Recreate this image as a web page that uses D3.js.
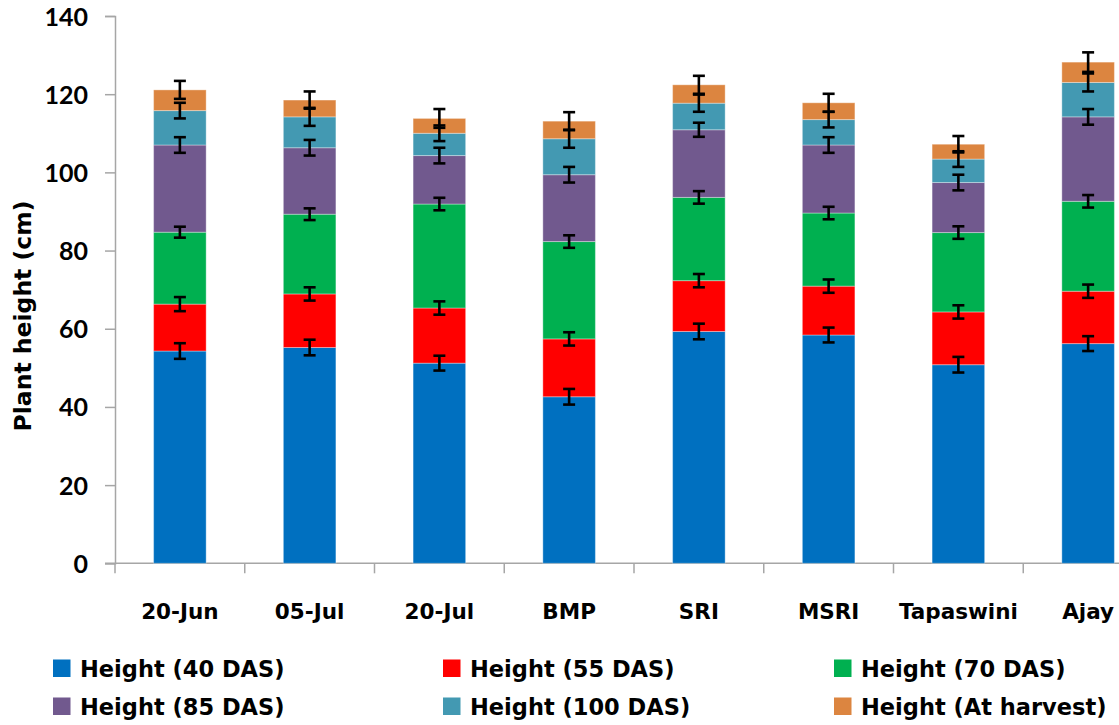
<!DOCTYPE html>
<html>
<head>
<meta charset="utf-8">
<script src="https://cdn.jsdelivr.net/npm/d3@7/dist/d3.min.js"></script>
<style>
  html, body { margin: 0; padding: 0; background: #fff; }
  svg { display: block; }
  text { font-family: "DejaVu Sans", "Liberation Sans", sans-serif; font-weight: bold; fill: #000; }
  .ytick text { font-family: Lato, "DejaVu Sans", sans-serif; }
</style>
</head>
<body>
<svg id="chart" width="1119" height="725"></svg>
<script>
// ---- Data (segment increments, cm) ----
const categories = ["20-Jun", "05-Jul", "20-Jul", "BMP", "SRI", "MSRI", "Tapaswini", "Ajay"];
const seriesNames = ["Height (40 DAS)", "Height (55 DAS)", "Height (70 DAS)", "Height (85 DAS)", "Height (100 DAS)", "Height (At harvest)"];
const h40  = [54.3, 55.2, 51.2, 42.6, 59.3, 58.4, 50.8, 56.2];
const h55  = [12.0, 13.7, 14.1, 14.8, 13.0, 12.5, 13.5, 13.4];
const h70  = [18.4, 20.4, 26.6, 24.9, 21.3, 18.7, 20.3, 23.0];
const h85  = [22.3, 17.0, 12.4, 17.1, 17.3, 17.4, 12.8, 21.6];
const h100 = [ 8.8,  7.9,  5.7,  9.2,  6.8,  6.5,  6.0,  8.8];
const hHarvest = [5.3, 4.3, 3.8, 4.5, 4.7, 4.3, 3.8, 5.2];
// error bar half-lengths (cm)
const e40  = [2.0, 2.0, 1.9, 2.0, 2.0, 1.9, 2.0, 1.9];
const e55  = [1.8, 1.7, 1.7, 1.7, 1.7, 1.7, 1.7, 1.7];
const e70  = [1.4, 1.5, 1.6, 1.6, 1.6, 1.6, 1.6, 1.6];
const e85  = [2.0, 2.0, 2.0, 2.0, 1.8, 2.0, 2.0, 2.0];
const e100 = [2.0, 2.3, 2.0, 2.3, 2.2, 2.0, 2.0, 2.3];
const eHarvest = [2.3, 2.2, 2.4, 2.3, 2.3, 2.3, 2.1, 2.5];
const yTicks = [0, 20, 40, 60, 80, 100, 120, 140];
const colors = ["#0070C0", "#FF0000", "#00B050", "#71598E", "#4399B2", "#DC8540"];

const seriesVals = [h40, h55, h70, h85, h100, hHarvest];
const seriesErr = [e40, e55, e70, e85, e100, eHarvest];
const keys = seriesNames;
const table = categories.map((c, i) => {
  const row = { cat: c };
  keys.forEach((k, j) => row[k] = seriesVals[j][i]);
  return row;
});
const stacked = d3.stack().keys(keys)(table);

const svg = d3.select("#chart");
const W = 1119, H = 725;
const x0 = 115, step = 129.75;
const x = d3.scaleBand().domain(categories).range([x0, x0 + step * categories.length])
  .paddingInner(0.595).paddingOuter(0.2975);
const y = d3.scaleLinear().domain([0, 140]).range([563.3, 16]);

const axisColor = "#A6A6A6";

// Y axis
const yAxis = svg.append("g").attr("class", "ytick").attr("transform", `translate(${x0},0)`)
  .call(d3.axisLeft(y).tickValues(yTicks).tickSize(10).tickPadding(17).tickFormat(d3.format("d")));
yAxis.select(".domain").attr("stroke", axisColor).attr("stroke-width", 1.5);
yAxis.selectAll(".tick line").attr("stroke", axisColor).attr("stroke-width", 1.5);
yAxis.selectAll(".tick text").style("font-size", "25px").attr("dy", "0.36em");

// X axis line and boundary ticks
svg.append("line").attr("x1", 105).attr("x2", W).attr("y1", y(0)).attr("y2", y(0))
  .attr("stroke", axisColor).attr("stroke-width", 1.5);
const bounds = d3.range(categories.length + 1).map(i => x0 + i * step);
svg.append("g").selectAll("line").data(bounds).join("line")
  .attr("x1", d => d).attr("x2", d => d)
  .attr("y1", y(0)).attr("y2", y(0) + 10)
  .attr("stroke", axisColor).attr("stroke-width", 1.5);

// X labels
const xAxis = svg.append("g").attr("transform", `translate(0,${y(0)})`)
  .call(d3.axisBottom(x).tickSize(0).tickPadding(40));
xAxis.select(".domain").remove();
xAxis.selectAll(".tick text").style("font-size", "21.5px");

// Bars
const layers = svg.append("g").selectAll("g").data(stacked).join("g")
  .attr("fill", (d, i) => colors[i]);
layers.selectAll("rect").data(d => d).join("rect")
  .attr("x", d => x(d.data.cat))
  .attr("width", x.bandwidth())
  .attr("y", d => y(d[1]))
  .attr("height", d => y(d[0]) - y(d[1]))
  .attr("stroke", "rgba(255,255,255,0.35)")
  .attr("stroke-width", 1);

// Error bars (centered on segment tops)
const errData = [];
stacked.forEach((layer, j) => {
  layer.forEach((d, i) => {
    errData.push({ cx: x(d.data.cat) + x.bandwidth() / 2, v: d[1], e: seriesErr[j][i] });
  });
});
const eb = svg.append("g").attr("stroke", "#000").attr("stroke-width", 2.6);
eb.selectAll("line.v").data(errData).join("line").attr("class", "v")
  .attr("x1", d => d.cx).attr("x2", d => d.cx)
  .attr("y1", d => y(d.v + d.e)).attr("y2", d => y(d.v - d.e));
eb.selectAll("line.t").data(errData).join("line").attr("class", "t")
  .attr("x1", d => d.cx - 6).attr("x2", d => d.cx + 6)
  .attr("y1", d => y(d.v + d.e)).attr("y2", d => y(d.v + d.e));
eb.selectAll("line.b").data(errData).join("line").attr("class", "b")
  .attr("x1", d => d.cx - 6).attr("x2", d => d.cx + 6)
  .attr("y1", d => y(d.v - d.e)).attr("y2", d => y(d.v - d.e));

// Y axis title
svg.append("text")
  .attr("transform", "translate(31,316) rotate(-90)")
  .attr("text-anchor", "middle")
  .style("font-size", "23.5px")
  .text("Plant height (cm)");

// Legend
const legX = [53, 443, 834];
const legY = [677, 715];
const leg = svg.append("g").selectAll("g").data(seriesNames).join("g")
  .attr("transform", (d, i) => `translate(${legX[i % 3]},${legY[Math.floor(i / 3)]})`);
leg.append("rect").attr("x", 0).attr("y", -17.5).attr("width", 17.5).attr("height", 17.5)
  .attr("fill", (d, i) => colors[i]);
leg.append("text").attr("x", 27).attr("y", 0)
  .style("font-size", "22.5px").text(d => d);
</script>
</body>
</html>
